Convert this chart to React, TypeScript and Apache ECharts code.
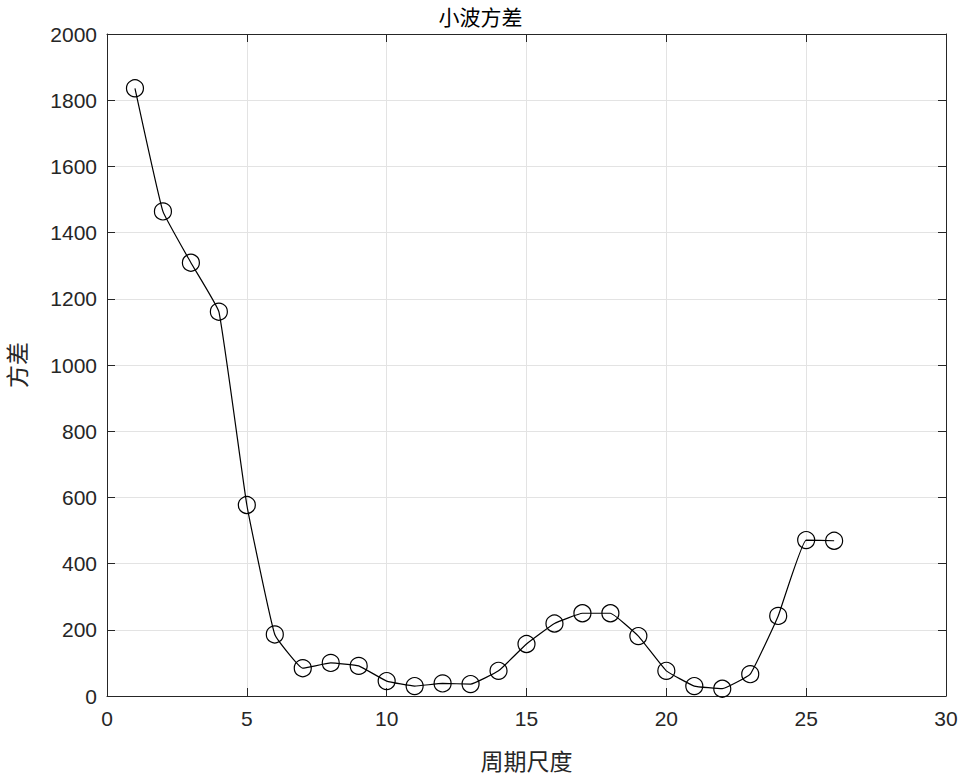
import React, { useEffect, useRef } from "react";
import * as echarts from "echarts";

const scales = [1, 2, 3, 4, 5, 6, 7, 8, 9, 10, 11, 12, 13, 14, 15, 16, 17, 18, 19, 20, 21, 22, 23, 24, 25, 26];
const variance = [1836, 1464, 1309, 1161, 577, 186, 84, 100, 91, 45, 30, 38, 36, 76, 157, 219, 250, 250, 181, 76, 30, 22, 66, 242, 471, 469];

const titleText = "小波方差";
const xName = "周期尺度";
const yName = "方差";

export default function App() {
  const ref = useRef<HTMLDivElement>(null);
  useEffect(() => {
    document.body.style.margin = "0";
    const chart = echarts.init(ref.current!, null, { renderer: "svg" });
    const axisColor = "#262626";
    const gridColor = "#e3e3e3";
    const labelFont = { fontFamily: "Liberation Sans, Arial, sans-serif", fontSize: 21, color: axisColor };
    const cjk = "Noto Sans CJK SC";
    chart.setOption({
      animation: false,
      backgroundColor: "#ffffff",
      title: {
        text: titleText,
        left: "center",
        top: 0,
        textStyle: { fontFamily: cjk, fontSize: 21, fontWeight: "normal", color: "#000" },
      },
      grid: { left: 107, right: 15, top: 34, bottom: 79, outerBoundsMode: "none", containLabel: false },
      xAxis: [
        {
          type: "value",
          min: 0,
          max: 30,
          interval: 5,
          name: xName,
          nameLocation: "middle",
          nameGap: 52,
          nameTextStyle: { fontFamily: cjk, fontSize: 23, color: axisColor },
          axisLine: { onZero: false, lineStyle: { color: axisColor, width: 1 } },
          axisTick: { inside: true, length: 8, lineStyle: { color: axisColor } },
          axisLabel: { ...labelFont, margin: 12, formatter: (v: number) => String(v) },
          splitLine: { show: true, lineStyle: { color: gridColor, width: 1 } },
        },
        {
          type: "value",
          position: "top",
          min: 0,
          max: 30,
          interval: 5,
          axisLine: { show: true, onZero: false, lineStyle: { color: axisColor, width: 1 } },
          axisTick: { show: true, inside: true, length: 8, lineStyle: { color: axisColor } },
          axisLabel: { show: false },
          splitLine: { show: false },
        },
      ],
      yAxis: [
        {
          type: "value",
          min: 0,
          max: 2000,
          interval: 200,
          name: yName,
          nameLocation: "middle",
          nameGap: 80,
          nameRotate: 90,
          nameTextStyle: { fontFamily: cjk, fontSize: 23, color: axisColor },
          axisLine: { show: true, onZero: false, lineStyle: { color: axisColor, width: 1 } },
          axisTick: { show: true, inside: true, length: 8, lineStyle: { color: axisColor } },
          axisLabel: { ...labelFont, margin: 10, formatter: (v: number) => String(v) },
          splitLine: { show: true, lineStyle: { color: gridColor, width: 1 } },
        },
        {
          type: "value",
          position: "right",
          min: 0,
          max: 2000,
          interval: 200,
          axisLine: { show: true, onZero: false, lineStyle: { color: axisColor, width: 1 } },
          axisTick: { show: true, inside: true, length: 8, lineStyle: { color: axisColor } },
          axisLabel: { show: false },
          splitLine: { show: false },
        },
      ],
      series: [
        {
          type: "line",
          data: scales.map((s, i) => [s, variance[i]]),
          smooth: 0.1,
          symbol: "circle",
          symbolSize: 17,
          showAllSymbol: true,
          lineStyle: { color: "#000", width: 1.2 },
          itemStyle: { color: "rgba(0,0,0,0)", borderColor: "#000", borderWidth: 1.2 },
          emphasis: { disabled: true },
        },
      ],
    });
    return () => chart.dispose();
  }, []);
  return <div ref={ref} style={{ width: 961, height: 775 }} />;
}
